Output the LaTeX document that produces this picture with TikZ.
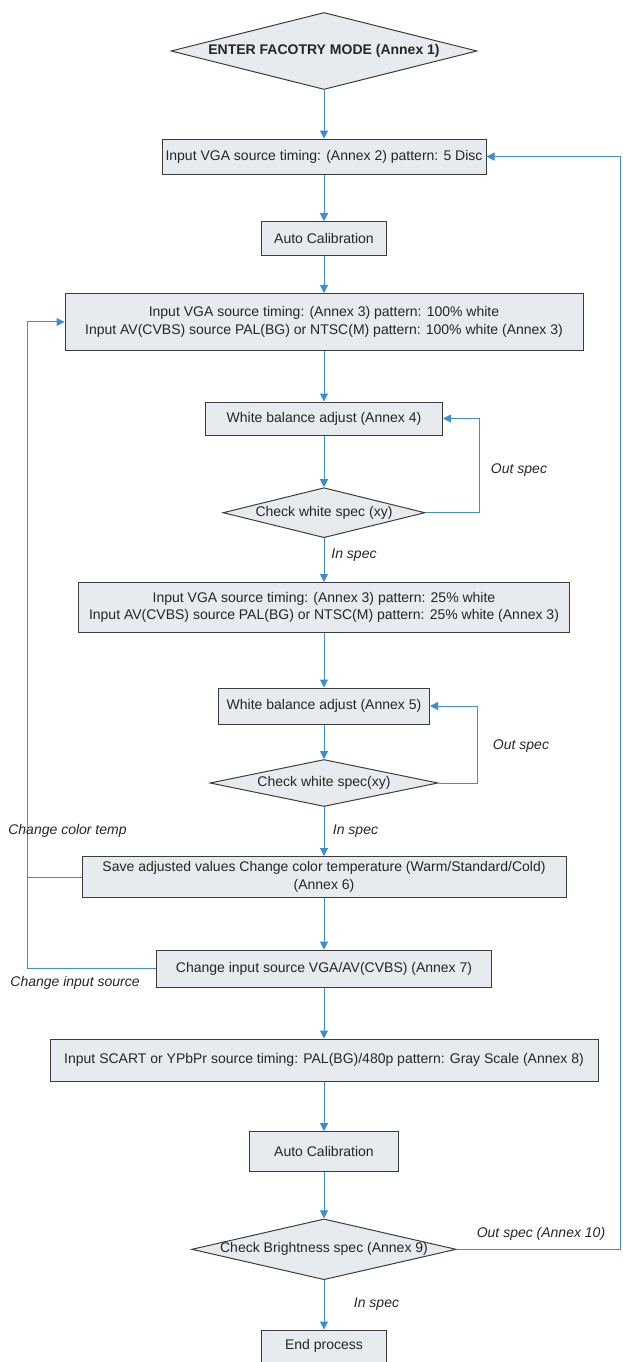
\documentclass[tikz,border=0pt]{standalone}
\usepackage{fontspec}
\setmainfont{Liberation Sans}
\usetikzlibrary{shapes.geometric, arrows.meta}

\definecolor{flowblue}{RGB}{59,142,210}
\definecolor{boxfill}{RGB}{231,234,238}
\definecolor{boxline}{RGB}{60,60,60}

\tikzset{
	box/.style={draw=boxline, fill=boxfill, line width=0.75pt, inner sep=0pt, align=center,
		font=\fontsize{10.5}{13}\selectfont, text=black!85},
	decision/.style={box, shape=diamond},
	flow/.style={draw=flowblue, line width=0.75pt, -{Triangle[width=6pt,length=6pt]}},
	link/.style={draw=flowblue, line width=0.75pt},
	tag/.style={font=\fontsize{10.5}{13}\selectfont\itshape, text=black!85, inner sep=0pt}
}

\begin{document}
\begin{tikzpicture}[x=0.75pt, y=-0.75pt]
	\useasboundingbox (0,0) rectangle (622,1362);
	\def\colx{324};
	
	% main column
	\node [decision, minimum width=229.5pt, minimum height=57.75pt, shape aspect=3.97,
		font=\fontsize{10.5}{13}\selectfont\bfseries] (start) at (\colx,51) {ENTER FACOTRY MODE (Annex 1)};
	\node [box, minimum width=243pt, minimum height=26.25pt] (vga) at (\colx,156.6) {Input VGA source timing: (Annex 2) pattern: 5 Disc};
	\node [box, minimum width=93.75pt, minimum height=25.5pt] (cal1) at (\colx,238.7) {Auto Calibration};
	\node [box, minimum width=388.5pt, minimum height=42.75pt] (full) at (\colx,322) {Input VGA source timing: (Annex 3) pattern: 100\% white\\Input AV(CVBS) source PAL(BG) or NTSC(M) pattern: 100\% white (Annex 3)};
	\node [box, minimum width=177.75pt, minimum height=24.75pt] (wb1) at (\colx,418.5) {White balance adjust (Annex 4)};
	\node [decision, minimum width=151.5pt, minimum height=37.5pt, shape aspect=4.04] (chk1) at (\colx,512.7) {Check white spec (xy)};
	\node [box, minimum width=368.25pt, minimum height=37.5pt] (quart) at (\colx,607.5) {Input VGA source timing: (Annex 3) pattern: 25\% white\\Input AV(CVBS) source PAL(BG) or NTSC(M) pattern: 25\% white (Annex 3)};
	\node [box, minimum width=158.25pt, minimum height=27pt] (wb2) at (\colx,706) {White balance adjust (Annex 5)};
	\node [decision, minimum width=171pt, minimum height=35.25pt, shape aspect=4.85] (chk2) at (\colx,783) {Check white spec(xy)};
	\node [box, minimum width=363pt, minimum height=30.75pt] (save) at (\colx,877) {Save adjusted values Change color temperature (Warm/Standard/Cold)\\(Annex 6)};
	\node [box, minimum width=251.25pt, minimum height=27.75pt] (src) at (\colx,968.7) {Change input source VGA/AV(CVBS) (Annex 7)};
	\node [box, minimum width=411pt, minimum height=31.5pt] (scart) at (\colx,1060) {Input SCART or YPbPr source timing: PAL(BG)/480p pattern: Gray Scale (Annex 8)};
	\node [box, minimum width=111.75pt, minimum height=30pt] (cal2) at (\colx,1151.7) {Auto Calibration};
	\node [decision, minimum width=195.75pt, minimum height=45pt, shape aspect=4.35] (chk3) at (\colx,1249.3) {Check Brightness spec (Annex 9)};
	\node [box, minimum width=93.75pt, minimum height=24pt] (stop) at (\colx,1346) {End process};
	
	% loop columns
	\coordinate (back) at (27,0);
	\coordinate (edge) at (620.5,0);
	
	% straight flow
	\draw [flow] (start) -- (vga);
	\draw [flow] (vga) -- (cal1);
	\draw [flow] (cal1) -- (full);
	\draw [flow] (full) -- (wb1);
	\draw [flow] (wb1) -- (chk1);
	\draw [flow] (chk1) -- (quart);
	\draw [flow] (quart) -- (wb2);
	\draw [flow] (wb2) -- (chk2);
	\draw [flow] (chk2) -- (save);
	\draw [flow] (save) -- (src);
	\draw [flow] (src) -- (scart);
	\draw [flow] (scart) -- (cal2);
	\draw [flow] (cal2) -- (chk3);
	\draw [flow] (chk3) -- (stop);
	
	% loops
	\draw [flow] (chk1.east) -- ++(54.3,0) |- (wb1.east);
	\draw [flow] (chk2.east) -- ++(39,0) |- (wb2.east);
	\draw [flow] (src.west) -- (src.west -| back) -- (full.west -| back) -- (full.west);
	\draw [link] (save.west) -- (save.west -| back);
	\draw [flow] (chk3.east) -- (chk3.east -| edge) -- (vga.east -| edge) -- (vga.east);
	
	% labels
	\node [tag] (out1) at (519,470) {Out spec};
	\node [tag] (in1) at (354,555) {In spec};
	\node [tag] (out2) at (521,746) {Out spec};
	\node [tag] (in2) at (355.5,830.7) {In spec};
	\node [tag] (temp) at (67.5,830.7) {Change color temp};
	\node [tag] (input) at (75,983.3) {Change input source};
	\node [tag] (in3) at (376.5,1304) {In spec};
	\node [tag] (out3) at (541,1234) {Out spec (Annex 10)};
\end{tikzpicture}
\end{document}
